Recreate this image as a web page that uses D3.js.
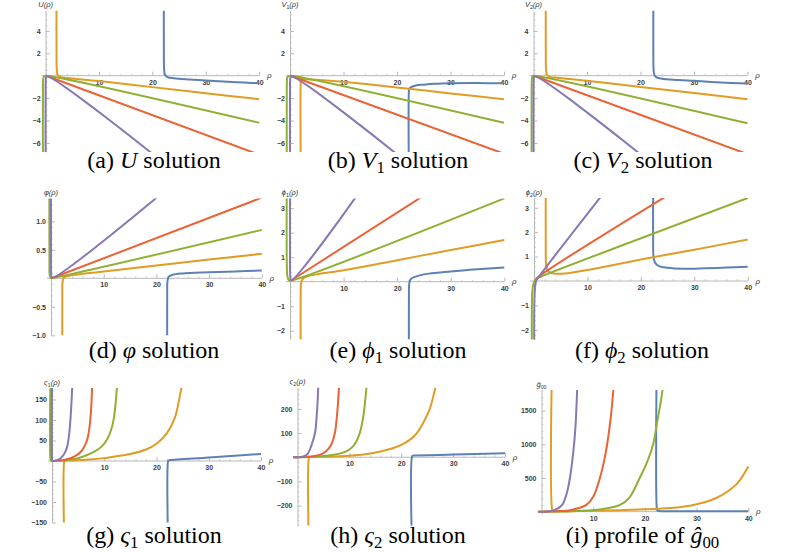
<!DOCTYPE html>
<html><head><meta charset="utf-8">
<script src="https://cdn.jsdelivr.net/npm/d3@7"></script>
<style>
body{margin:0;background:#fff} svg{display:block}
.cap{font-family:"Liberation Serif","Times New Roman","DejaVu Serif",serif;}
.tk{font-family:"Liberation Sans",Arial,"DejaVu Sans",sans-serif;}
</style>
</head><body><svg id="c" width="797" height="552"></svg>
<script>
// ---------- DATA ----------
const seriesNames = ["blue","orange","green","red","purple"];
const xTicks = [10,20,30,40];
const xMinor = [2,4,6,8,12,14,16,18,22,24,26,28,32,34,36,38];

// (a) U
const U_blue   = [[22.15,8],[22.15,1.5],[22.2,0.5],[22.35,0.08],[22.8,-0.12],[24,-0.23],[27,-0.34],[30,-0.42],[35,-0.57],[40,-0.68]];
const U_orange = [[2.05,8],[2.05,1.5],[2.1,0.5],[2.25,0.08],[2.7,-0.1],[4,-0.2],[10,-0.47],[20,-1.02],[30,-1.56],[40,-2.1]];
const U_green  = [[-0.5,-8],[-0.5,-1.2],[-0.45,-0.3],[-0.25,-0.03],[0.1,0],[40,-4.2]];
const U_red    = [[0.1,0],[40,-7.05]];
const U_purple = [[0,-8],[0,-1.2],[0.05,-0.3],[0.2,-0.05],[21,-7.35]];
const U_yTicks = [-6,-4,-2,2,4];

// (b) V1
const V1_blue   = [[22.2,-8],[22.2,-1.7],[22.27,-1.25],[22.6,-1.02],[23.5,-0.88],[25,-0.8],[27,-0.72],[30,-0.67],[35,-0.66],[40,-0.68]];
const V1_orange = [[2.0,-8],[2.0,-0.6],[2.05,-0.33],null,[0.3,-0.08],[1.2,-0.2],[2.5,-0.3],[5,-0.36],[10,-0.55],[20,-1.05],[30,-1.58],[40,-2.1]];
const V1_green  = [[-0.6,-8],[-0.6,-1.2],[-0.55,-0.3],[-0.35,-0.03],[0.1,0],[40,-4.2]];
const V1_red    = [[0.1,0],[40,-6.96]];
const V1_purple = [[0,-8],[0,-1.2],[0.05,-0.3],[0.2,-0.05],[21,-7.4]];
const V1_yTicks = [-6,-4,-2,2,4];

// (c) V2
const V2_blue   = [[22.4,8],[22.4,1.5],[22.45,0.5],[22.6,0.08],[23,-0.15],[24,-0.27],[27,-0.38],[30,-0.46],[35,-0.6],[40,-0.7]];
const V2_orange = [[2.3,8],[2.3,1.5],[2.35,0.5],[2.5,0.08],[3,-0.1],[4,-0.17],[10,-0.45],[20,-1.0],[30,-1.55],[40,-2.1]];
const V2_green  = [[-0.35,-8],[-0.35,-1.2],[-0.3,-0.3],[-0.15,-0.03],[0.1,0],[40,-4.25]];
const V2_red    = [[0.1,0],[40,-7.0]];
const V2_purple = [[0,-8],[0,-1.2],[0.05,-0.3],[0.2,-0.05],[21,-7.4]];
const V2_yTicks = [-6,-4,-2,2,4];

// (d) varphi
const phi_blue   = [[22.05,-1.5],[22.05,-0.3],[22.1,-0.05],[22.35,0.03],[23,0.06],[25,0.085],[30,0.105],[35,0.12],[40,0.135]];
const phi_orange = [[2.15,-1.5],[2.15,-0.3],[2.2,-0.06],[2.45,0.015],[3.2,0.04],[10,0.12],[20,0.225],[30,0.33],[40,0.43]];
const phi_green  = [[-0.3,2],[-0.3,0.3],[-0.25,0.06],[-0.05,0.005],[0.2,0.005],[40,0.85]];
const phi_red    = [[0.1,0],[40,1.415]];
const phi_purple = [[0,2],[0,0.3],[0.05,0.06],[0.2,0.01],[20.5,1.45]];
const phi_yTicks = [-1.0,-0.5,0.5,1.0];

// (e) phi1
const phi1_blue   = [[22.2,-3],[22.2,-0.5],[22.25,-0.1],[22.5,0.1],[23.3,0.2],[25,0.3],[30,0.42],[35,0.51],[40,0.58]];
const phi1_orange = [[2.0,-3],[2.0,-0.5],[2.07,-0.05],[2.4,0.12],[3.2,0.22],[5,0.3],[10,0.47],[20,0.88],[30,1.29],[40,1.7]];
const phi1_green  = [[-0.6,4],[-0.6,0.8],[-0.5,0.25],[-0.2,0.05],[0.3,0.05],[40,3.4]];
const phi1_red    = [[0.2,0.05],[25,3.52]];
const phi1_purple = [[0,4],[0,0.8],[0.05,0.25],[0.2,0.06],[12.5,3.52]];
const phi1_yTicks = [-2,-1,1,2,3];

// (f) phi2
const phi2_blue   = [[22.3,4],[22.3,1.5],[22.35,1.05],[22.6,0.78],[23.3,0.62],[25,0.54],[28,0.5],[32,0.52],[36,0.55],[40,0.58]];
const phi2_orange = [[2.2,4],[2.2,1.2],[2.25,0.7],[2.5,0.45],[3.2,0.33],[5,0.3],[7,0.34],[10,0.45],[20,0.88],[30,1.28],[40,1.7]];
const phi2_green  = [[-0.4,-3],[-0.4,-1.2],[-0.3,-0.4],[0,-0.05],[0.5,0.1],[1.5,0.2],[40,3.4]];
const phi2_red    = [[0.3,0.05],[1,0.2],[24.5,3.44]];
const phi2_purple = [[0.05,-3],[0.05,-1.2],[0.15,-0.4],[0.4,0],[1,0.2],[12.5,3.45]];
const phi2_yTicks = [-2,-1,1,2,3];

// (g) varsigma1
const s1_blue   = [[22.2,-200],[22.2,-1],[22.3,1.5],[22.6,2.2],[30,8.5],[40,17]];
const s1_orange = [[2.35,-200],[2.35,-1],[2.45,0.5],[2.8,1],[4,1.5],[7,3.5],[10,7],[13,13],[15,17],[18,28],[20,42],[22,68],[23.5,105],[24.5,160],[25,195]];
const s1_green  = [[-0.3,200],[-0.3,6],[-0.2,1],[0.2,0.2],[1,0.5],[2,1.2],[4,4],[6,11],[8,22],[9.5,35],[10.5,52],[11.3,75],[11.85,105],[12.2,145],[12.5,190]];
const s1_red    = [[0.2,0.2],[1.5,1],[2.5,3],[3.8,8],[4.8,15],[5.7,25],[6.3,38],[6.8,55],[7.2,85],[7.5,130],[7.7,190]];
const s1_purple = [[0,200],[0,6],[0.05,1],[0.2,0.2],[0.8,1.5],[1.5,5],[2,11],[2.5,21],[2.9,35],[3.15,52],[3.4,80],[3.6,115],[3.8,160],[3.9,190]];
const s1_yTicks = [-150,-100,-50,50,100,150];

// (h) varsigma2
const s2_blue   = [[22.1,-400],[22.1,4],[22.25,6.5],[22.6,7],[30,11],[40,17]];
const s2_orange = [[2.2,-400],[2.2,-2],[2.3,0.5],[2.7,1],[5,2],[10,6],[13,12],[16,24],[18.5,38],[20.4,55],[22,78],[23,100],[24.3,145],[25.5,200],[26.6,290],[27,330]];
const s2_green  = [[-0.8,0],[1,0.5],[3,2],[5,5],[7,10],[8.9,20],[10,32],[10.9,50],[12,100],[12.7,170],[13.3,290],[13.5,340]];
const s2_red    = [[-0.8,0],[1,0.8],[3,4],[4.5,12],[5.5,25],[6.45,50],[7.2,100],[7.6,170],[8.0,290],[8.1,340]];
const s2_purple = [[-0.8,0],[0.5,1],[1.3,4],[2,15],[2.7,50],[3.37,100],[3.7,170],[4.0,290],[4.05,340]];
const s2_yTicks = [-200,-100,100,200];

// (i) g00 profile
const g_blue   = [[22.3,2500],[22.3,50],[22.4,18],[22.8,10],[25,7],[30,6],[40,6]];
const g_orange = [[2.1,2500],[2.1,20],[2.25,8],[3,6],[5,8],[10,15],[15,22],[20,35],[25,55],[28,80],[30,110],[32,150],[34,210],[36,300],[38,430],[40,670]];
const g_green  = [[-0.6,0],[3,3],[6,8],[10,22],[13,55],[15.2,100],[17,210],[19,500],[20.5,750],[21.6,1000],[22.3,1300],[23,1600],[23.4,1800],[23.6,1950]];
const g_red    = [[-0.6,0],[2,3],[4,10],[6,30],[8.7,100],[10,220],[11.3,500],[12.1,750],[12.7,1000],[13.4,1400],[13.9,1800],[14.1,1950]];
const g_purple = [[-0.6,0],[1,3],[2,12],[3,40],[4,100],[4.8,250],[5.5,500],[6.3,1000],[6.6,1300],[6.9,1800],[7.0,1950]];
const g_yTicks = [500,1000,1500];

// ---------- LAYOUT / STYLE ----------
const colors = {blue:"#5E81B5", orange:"#E19C24", green:"#8FB032", red:"#EB6235", purple:"#8778B3"};

const panels = [
 {id:"a", series:[U_blue,U_orange,U_green,U_red,U_purple], yTicks:U_yTicks, fmt:"d", minorStep:0.5,
  x0:45.6, x40:259.2, yd:[-6.8,5.8], yr:[151.9,10.7],
  ylab:[["U","i"],["(ρ)","i"]], cap:[["(a) ",""],["U","i"],[" solution",""]], cx:154, cy:168},
 {id:"b", series:[V1_blue,V1_orange,V1_green,V1_red,V1_purple], yTicks:V1_yTicks, fmt:"d", minorStep:0.5,
  x0:290, x40:504, yd:[-6.8,5.8], yr:[151.9,10.7],
  ylab:[["V","i"],["1","sub"],["(ρ)","i"]], cap:[["(b) ",""],["V","i"],["1","sub"],[" solution",""]], cx:398, cy:168},
 {id:"c", series:[V2_blue,V2_orange,V2_green,V2_red,V2_purple], yTicks:V2_yTicks, fmt:"d", minorStep:0.5,
  x0:533.5, x40:747.5, yd:[-6.8,5.8], yr:[151.9,10.7],
  ylab:[["V","i"],["2","sub"],["(ρ)","i"]], cap:[["(c) ",""],["V","i"],["2","sub"],[" solution",""]], cx:643, cy:168},
 {id:"d", series:[phi_blue,phi_orange,phi_green,phi_red,phi_purple], yTicks:phi_yTicks, fmt:".1f", minorStep:0.1,
  x0:51, x40:261.8, yd:[-1.0,1.4], yr:[335.3,198.5],
  ylab:[["φ(ρ)","i"]], cap:[["(d) ",""],["φ","i"],[" solution",""]], cx:154, cy:358},
 {id:"e", series:[phi1_blue,phi1_orange,phi1_green,phi1_red,phi1_purple], yTicks:phi1_yTicks, fmt:"d", minorStep:0.2,
  x0:290, x40:504.3, yd:[-2.35,3.4], yr:[339.3,198.4],
  ylab:[["ϕ","i"],["1","sub"],["(ρ)","i"]], cap:[["(e) ",""],["ϕ","i"],["1","sub"],[" solution",""]], cx:398, cy:358},
 {id:"f", series:[phi2_blue,phi2_orange,phi2_green,phi2_red,phi2_purple], yTicks:phi2_yTicks, fmt:"d", minorStep:0.2,
  x0:534, x40:747.7, yd:[-2.4,3.4], yr:[339.6,198],
  ylab:[["ϕ","i"],["2","sub"],["(ρ)","i"]], cap:[["(f) ",""],["ϕ","i"],["2","sub"],[" solution",""]], cx:642, cy:358},
 {id:"g", series:[s1_blue,s1_orange,s1_green,s1_red,s1_purple], yTicks:s1_yTicks, fmt:"d", minorStep:10,
  x0:52, x40:261, yd:[-150,178], yr:[522.5,388],
  ylab:[["ς","i"],["1","sub"],["(ρ)","i"]], cap:[["(g) ",""],["ς","i"],["1","sub"],[" solution",""]], cx:154, cy:543},
 {id:"h", series:[s2_blue,s2_orange,s2_green,s2_red,s2_purple], yTicks:s2_yTicks, fmt:"d", minorStep:20,
  x0:297.5, x40:505, yd:[-282,287], yr:[525.5,387.8],
  ylab:[["ς","i"],["2","sub"],["(ρ)","i"]], cap:[["(h) ",""],["ς","i"],["2","sub"],[" solution",""]], cx:398, cy:543},
 {id:"i", series:[g_blue,g_orange,g_green,g_red,g_purple], yTicks:g_yTicks, fmt:"d", minorStep:100,
  x0:541.5, x40:748.3, yd:[-30,1805], yr:[513.7,390.0],
  ylab:[["ĝ","i"],["00","sub"]], cap:[["(i) profile of ",""],["ĝ","i"],["00","sub"]], cx:642.5, cy:543}
];

const svg = d3.select("#c");
const AX = "#b8b8b8", TK = "#404040";

function addParts(text, parts, size, subShift) {
  let shifted = false;
  parts.forEach(([t, k]) => {
    const ts = text.append("tspan").text(t);
    if (k === "i") ts.attr("font-style", "italic");
    if (k === "sub") {
      ts.attr("font-size", size * 0.7).attr("dy", subShift);
      shifted = true;
    } else if (shifted) {
      ts.attr("dy", -subShift);
      shifted = false;
    }
  });
}

panels.forEach((p) => {
  const xs = d3.scaleLinear().domain([0, 40]).range([p.x0, p.x40]);
  const ys = d3.scaleLinear().domain(p.yd).range(p.yr);
  const g = svg.append("g");

  // minor ticks
  const yMinor = d3.range(Math.ceil(p.yd[0] / p.minorStep), Math.floor(p.yd[1] / p.minorStep) + 1)
    .map(k => +(k * p.minorStep).toFixed(6)).filter(v => v !== 0 && !p.yTicks.includes(v));
  const gxm = g.append("g").attr("transform", `translate(0,${ys(0)})`)
    .call(d3.axisBottom(xs).tickValues(xMinor).tickSize(-2).tickFormat(""));
  const gym = g.append("g").attr("transform", `translate(${xs(0)},0)`)
    .call(d3.axisLeft(ys).tickValues(yMinor).tickSize(-2).tickFormat(""));
  [gxm, gym].forEach(a => { a.select(".domain").remove(); a.selectAll("line").attr("stroke", "#d4d4d4"); });

  // major axes
  const gx = g.append("g").attr("transform", `translate(0,${ys(0)})`)
    .call(d3.axisBottom(xs).tickValues(xTicks).tickSize(-4).tickSizeOuter(0).tickPadding(4));
  const gy = g.append("g").attr("transform", `translate(${xs(0)},0)`)
    .call(d3.axisLeft(ys).tickValues(p.yTicks).tickFormat(d3.format(p.fmt)).tickSize(-4).tickSizeOuter(0).tickPadding(5));
  [gx, gy].forEach(a => {
    a.attr("font-family", null).attr("font-size", null);
    a.select(".domain").attr("stroke", AX);
    a.selectAll(".tick line").attr("stroke", AX);
    a.selectAll("text").attr("class", "tk").attr("fill", TK).attr("font-size", 7).attr("font-weight", "bold");
  });
  gx.select(".domain").attr("d", `M${xs(-0.8)},0H${xs(40)}`);

  // clip
  const cid = "clip" + p.id;
  svg.append("clipPath").attr("id", cid).append("rect")
    .attr("x", xs(-1.5)).attr("y", p.yr[1]).attr("width", xs(41) - xs(-1.5)).attr("height", p.yr[0] - p.yr[1]);

  const line = d3.line().defined(d => d != null).x(d => xs(d[0])).y(d => ys(d[1]))
    .curve(d3.curveCatmullRom.alpha(0.5));
  const lg = g.append("g").attr("clip-path", `url(#${cid})`);
  p.series.forEach((s, i) => {
    lg.append("path").attr("d", line(s)).attr("fill", "none")
      .attr("stroke", colors[seriesNames[i]]).attr("stroke-width", 2)
      .attr("stroke-linejoin", "round").attr("stroke-linecap", "butt");
  });

  // axis labels
  const yl = g.append("text").attr("class", "tk").attr("x", xs(0)).attr("y", p.yr[1] - 3.5).attr("text-anchor", "middle")
    .attr("font-size", 7.5).attr("fill", "#333");
  addParts(yl, p.ylab, 7.5, 2);
  g.append("text").attr("class", "tk").attr("x", xs(40) + 10).attr("y", ys(0) + 2.5).attr("text-anchor", "middle")
    .attr("font-size", 8).attr("font-style", "italic").attr("fill", "#333").text("ρ");

  // caption
  const ct = svg.append("text").attr("class", "cap").attr("x", p.cx).attr("y", p.cy).attr("text-anchor", "middle")
    .attr("font-size", 24).attr("fill", "#000");
  addParts(ct, p.cap, 24, 4.5);
});
</script></body></html>
